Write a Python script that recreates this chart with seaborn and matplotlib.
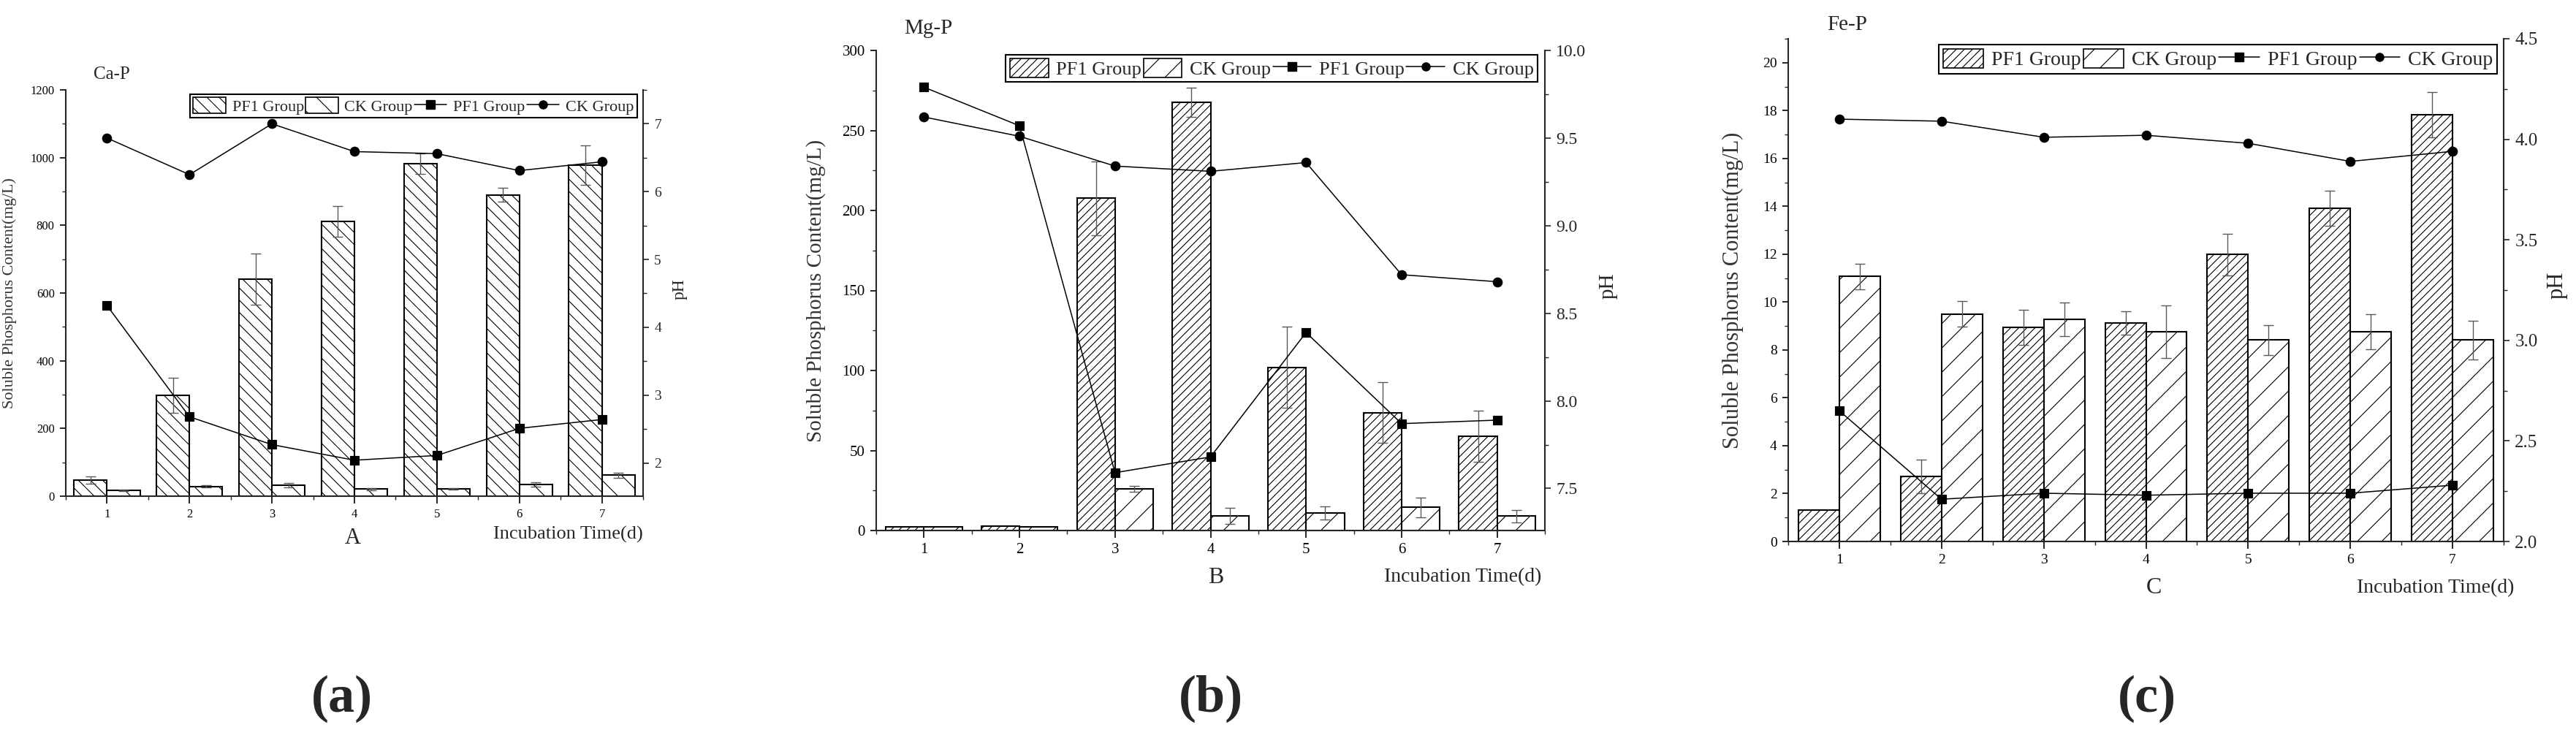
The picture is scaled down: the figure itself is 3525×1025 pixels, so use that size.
import numpy as np
import pandas as pd
import matplotlib
matplotlib.use("Agg")
import matplotlib.pyplot as plt
import seaborn as sns
from matplotlib.patches import Patch
from matplotlib.lines import Line2D
from matplotlib.ticker import MultipleLocator, FormatStrFormatter

# ---------------- data ----------------
days = ["1", "2", "3", "4", "5", "6", "7"]
groups = ["PF1 Group", "CK Group"]

# Ca-P
ca_pf1 = [47, 298, 641, 812, 982, 890, 977]
ca_pf1_err = [11, 52, 75, 45, 30, 20, 58]
ca_ck = [17, 29, 32, 21, 22, 34, 62]
ca_ck_err = [2, 3, 7, 3, 2, 6, 8]
ca_ph_pf1 = [4.32, 2.68, 2.27, 2.04, 2.11, 2.51, 2.64]
ca_ph_ck = [6.79, 6.25, 7.00, 6.59, 6.56, 6.31, 6.44]

# Mg-P
mg_pf1 = [2.2, 2.7, 207.6, 267.5, 102.0, 73.6, 59.0]
mg_pf1_err = [0, 0, 23, 9, 25.5, 19, 16]
mg_ck = [2.2, 2.2, 26.0, 9.0, 11.0, 14.4, 9.0]
mg_ck_err = [0, 0, 2, 5, 4, 6.3, 4]
mg_ph_pf1 = [9.79, 9.57, 7.59, 7.68, 8.39, 7.87, 7.89]
mg_ph_ck = [9.62, 9.51, 9.34, 9.31, 9.36, 8.72, 8.68]

# Fe-P
fe_pf1 = [1.3, 2.71, 8.95, 9.13, 11.99, 13.91, 17.82]
fe_pf1_err = [0, 0.71, 0.74, 0.49, 0.87, 0.73, 0.95]
fe_ck = [11.07, 9.50, 9.29, 8.76, 8.41, 8.76, 8.41]
fe_ck_err = [0.53, 0.53, 0.70, 1.10, 0.62, 0.72, 0.80]
fe_ph_pf1 = [2.65, 2.21, 2.24, 2.23, 2.24, 2.24, 2.28]
fe_ph_ck = [4.10, 4.09, 4.01, 4.02, 3.98, 3.89, 3.94]

ylabel_txt = "Soluble Phosphorus Content(mg/L)"
xlabel_txt = "Incubation Time(d)"

# ---------------- style ----------------
sns.set_theme(style="ticks")
plt.rcParams["font.family"] = ["Liberation Serif", "DejaVu Serif"]
plt.rcParams["hatch.linewidth"] = 0.8
plt.rcParams["axes.linewidth"] = 1.5

W, H = 3525, 1025
fig = plt.figure(figsize=(W / 100, H / 100), dpi=100)


def fx(px):
    return px / W


def fy(py):
    return 1 - py / H


def panel(box, pf1, pf1e, ck, cke, ph1, ph2, ylim, ystep, yminor, y2lim, y2step,
          y2minor, y2fmt, hatches, sizes, title, title_pos, letter, letter_pos,
          xlab_pos, leg_pos, ylab_x, y2lab_x):
    left, right, top, bottom = box
    ax = fig.add_axes([fx(left), fy(bottom), fx(right - left), (bottom - top) / H])
    df = pd.DataFrame({
        "Day": days * 2,
        "Group": [groups[0]] * len(days) + [groups[1]] * len(days),
        "Value": list(pf1) + list(ck),
    })
    sns.barplot(data=df, x="Day", y="Value", hue="Group", hue_order=groups,
                order=days, errorbar=None, width=0.8, gap=0,
                palette=["white", "white"], saturation=1, edgecolor="black",
                linewidth=1.5, legend=False, ax=ax)
    for cont, h, errs in zip(ax.containers, hatches, [pf1e, cke]):
        for bar, e in zip(cont, errs):
            bar.set_hatch(h)
            if e > 0:
                ax.errorbar(bar.get_x() + bar.get_width() / 2, bar.get_height(),
                            yerr=e, color="0.35", lw=1.0, capsize=5, capthick=1.0,
                            zorder=4)
    ax.set_ylim(*ylim)
    ax.yaxis.set_major_locator(MultipleLocator(ystep))
    ax.yaxis.set_minor_locator(MultipleLocator(yminor))

    ax2 = ax.twinx()
    dfl = pd.DataFrame({
        "Day": days * 2,
        "Group": [groups[0]] * len(days) + [groups[1]] * len(days),
        "pH": list(ph1) + list(ph2),
    })
    sns.pointplot(data=dfl, x="Day", y="pH", hue="Group", hue_order=groups,
                  order=days, palette=["black", "black"], markers=["s", "o"],
                  linestyles=["-", "-"], markersize=9, linewidth=1.1,
                  dodge=False, errorbar=None, legend=False, ax=ax2)
    ax2.set_ylim(*y2lim)
    ax2.yaxis.set_major_locator(MultipleLocator(y2step))
    ax2.yaxis.set_minor_locator(MultipleLocator(y2minor))
    ax2.yaxis.set_major_formatter(FormatStrFormatter(y2fmt))
    ax.set_xlim(-0.5, len(days) - 0.5)
    ax.xaxis.set_minor_locator(MultipleLocator(1, offset=0.5))

    for s in ["top", "right"]:
        ax.spines[s].set_visible(False)
    for s in ["top", "left", "bottom"]:
        ax2.spines[s].set_visible(False)
    ax2.spines["right"].set_linewidth(1.5)

    tk, rtk, ylab_fs, ph_fs, leg_fs, title_fs, lab_fs = sizes
    ax.tick_params(axis="both", which="major", direction="out", length=6, width=1.2,
                   labelsize=tk, pad=5, colors="black")
    ax.tick_params(axis="both", which="minor", direction="out", length=3.5, width=1.0)
    ax.tick_params(axis="x", which="major", length=7)
    ax2.tick_params(axis="y", which="major", direction="out", length=6, width=1.2,
                    labelsize=rtk, pad=5)
    ax2.tick_params(axis="y", which="minor", direction="out", length=3.5, width=1.0)

    ax.set_xlabel("")
    ax2.set_xlabel("")
    ax.set_ylabel(ylabel_txt, fontsize=ylab_fs, color="#333333")
    ax.yaxis.set_label_coords(ylab_x, 0.5)
    ax2.set_ylabel("pH", fontsize=ph_fs)
    ax2.yaxis.set_label_coords(y2lab_x, 0.51)

    fig.text(fx(title_pos[0]), fy(title_pos[1]), title, fontsize=title_fs,
             ha="left", va="center")
    fig.text(fx(letter_pos[0]), fy(letter_pos[1]), letter, fontsize=lab_fs + 3,
             ha="center", va="center")
    fig.text(fx(xlab_pos[0]), fy(xlab_pos[1]), xlabel_txt, fontsize=lab_fs,
             ha="left", va="center")

    handles = [
        Patch(facecolor="white", edgecolor="black", hatch=hatches[0], lw=1.2),
        Patch(facecolor="white", edgecolor="black", hatch=hatches[1], lw=1.2),
        Line2D([0], [0], color="black", marker="s", ms=8, lw=1.1),
        Line2D([0], [0], color="black", marker="o", ms=8, lw=1.1),
    ]
    leg = fig.legend(handles, groups + groups, loc="upper right",
                     bbox_to_anchor=(fx(leg_pos[0]), fy(leg_pos[1])), ncol=4,
                     frameon=True, fancybox=False, edgecolor="black", framealpha=1,
                     handlelength=2.0, handleheight=1.1, handletextpad=0.4,
                     columnspacing=0.1, borderpad=0.2, borderaxespad=0,
                     fontsize=leg_fs)
    leg.get_frame().set_linewidth(1.5)
    return ax, ax2


# Panel A: Ca-P
panel((90, 880, 123, 679), ca_pf1, ca_pf1_err, ca_ck, ca_ck_err, ca_ph_pf1, ca_ph_ck,
      (0, 1200), 200, 100, (1.51, 7.5), 1, 0.5, "%d", ["\\\\", "\\"],
      (12, 14, 16, 17, 16, 18, 19), "Ca-P", (128, 102), "A", (483, 736),
      (675, 731), (872, 129), -0.085, 1.05)

# Panel B: Mg-P
panel((1199, 2114, 69, 726), mg_pf1, mg_pf1_err, mg_ck, mg_ck_err, mg_ph_pf1, mg_ph_ck,
      (0, 300), 50, 25, (7.26, 10.0), 0.5, 0.25, "%.1f", ["///", "/"],
      (15, 17, 21, 21, 19, 21, 20), "Mg-P", (1237, 39), "B", (1664, 790),
      (1894, 790), (2104, 75), -0.075, 1.08)

# Panel C: Fe-P
panel((2447, 3426, 53, 741), fe_pf1, fe_pf1_err, fe_ck, fe_ck_err, fe_ph_pf1, fe_ph_ck,
      (0, 21), 2, 1, (2.0, 4.5), 0.5, 0.25, "%.1f", ["///", "/"],
      (14, 18, 22, 22, 20, 21, 20), "Fe-P", (2500, 34), "C", (2947, 805),
      (3225, 805), (3417, 61), -0.062, 1.06)

# sub-figure labels
for lab, x in zip(["(a)", "(b)", "(c)"], [468, 1657, 2938]):
    fig.text(fx(x), fy(956), lab, fontsize=52, fontweight="bold",
             ha="center", va="center")

fig.savefig("out.png", dpi=100, facecolor="white")
